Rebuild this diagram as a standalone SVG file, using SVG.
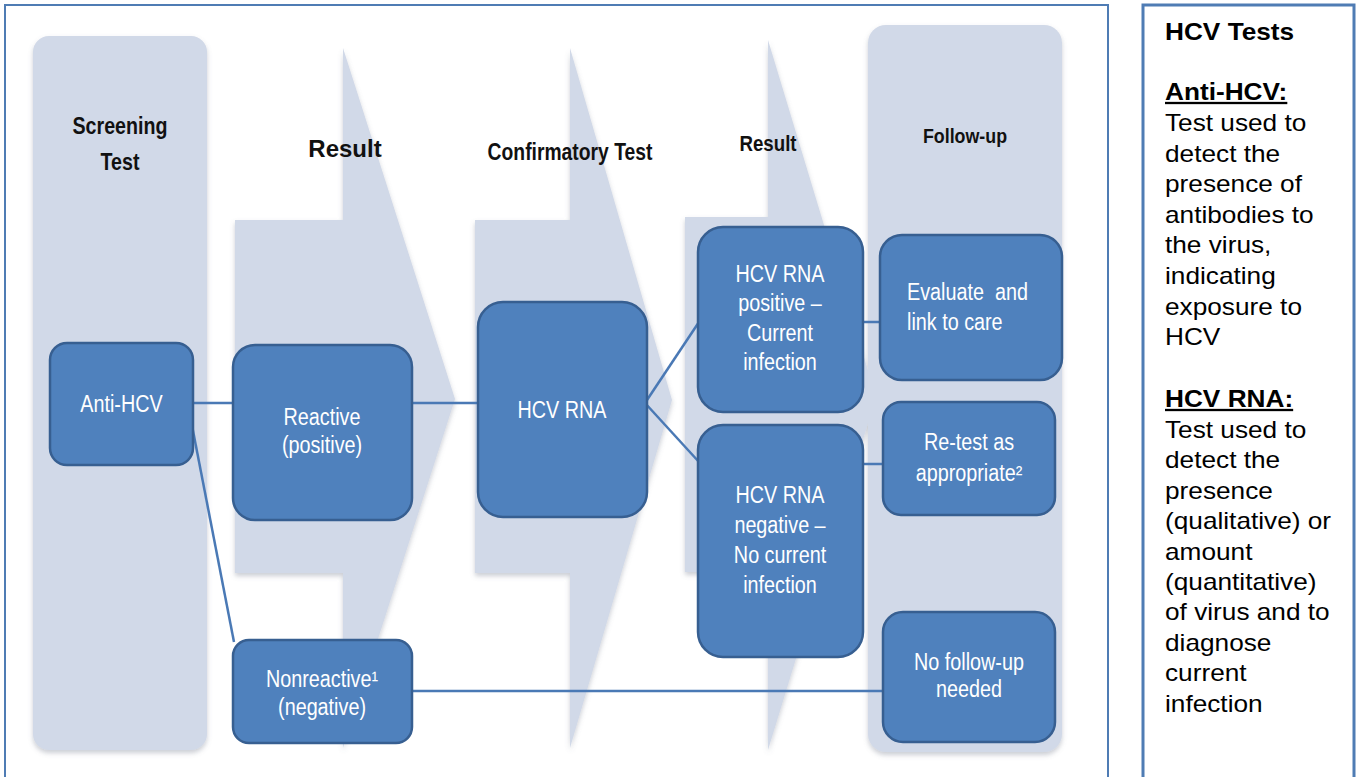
<svg xmlns="http://www.w3.org/2000/svg" width="1356" height="777" viewBox="0 0 1356 777">
<style>
  .frame{fill:none;stroke:#4f7cb4;}
  .bg{fill:#d1d9e8;}
  .node{fill:#4f81bd;stroke:#375f91;stroke-width:2.5;}
  .conn{stroke:#4a79b5;stroke-width:2.5;fill:none;}
  .nt{font-family:"Liberation Sans",Arial,sans-serif;font-size:23px;fill:#ffffff;text-anchor:middle;}
  .ntl{font-family:"Liberation Sans",Arial,sans-serif;font-size:23px;fill:#ffffff;text-anchor:start;}
  .hd{font-family:"Liberation Sans",Arial,sans-serif;font-weight:bold;fill:#111111;text-anchor:middle;}
  .pt{font-family:"Liberation Sans",Arial,sans-serif;font-size:23px;fill:#000000;}
  .pb{font-family:"Liberation Sans",Arial,sans-serif;font-size:23px;font-weight:bold;fill:#000000;}
</style>
<defs>
  <filter id="sh" x="-10%" y="-10%" width="120%" height="120%">
    <feDropShadow dx="0" dy="3" stdDeviation="2.5" flood-color="#6a7384" flood-opacity="0.35"/>
  </filter>
</defs>
<rect width="1356" height="777" fill="#ffffff"/>

<!-- frames -->
<g id="frames">
  <path class="frame" stroke-width="2" d="M5,777 V5 H1108 V777"/>
  <path class="frame" stroke-width="3" d="M1143,777 V5 H1354 V777"/>
</g>

<!-- background columns and process arrows -->
<g id="background" filter="url(#sh)">
  <rect id="col-screening" class="bg" x="33" y="36" width="174" height="714" rx="16"/>
  <path id="arrow-result1" class="bg" d="M235,220 H343 V48 L455,399 L343,748 V573 H235 Z"/>
  <path id="arrow-confirm" class="bg" d="M475,220 H570 V48 L672,400 L570,748 V573 H475 Z"/>
  <path id="arrow-result2" class="bg" d="M685,217 H768 V40 L876,397 L768,750 V572 H685 Z"/>
  <rect id="col-followup" class="bg" x="868" y="25" width="194" height="727" rx="18"/>
</g>

<!-- headers -->
<g id="headers">
  <text class="hd" font-size="23" transform="translate(120 134) scale(0.855 1)">Screening</text>
  <text class="hd" font-size="23" transform="translate(120 170) scale(0.855 1)">Test</text>
  <text class="hd" font-size="24" transform="translate(345 157)">Result</text>
  <text class="hd" font-size="23" transform="translate(570 160) scale(0.84 1)">Confirmatory Test</text>
  <text class="hd" font-size="22" transform="translate(768 151) scale(0.85 1)">Result</text>
  <text class="hd" font-size="21" transform="translate(965 143) scale(0.85 1)">Follow-up</text>
</g>

<!-- connectors -->
<g id="connectors">
  <line class="conn" x1="190" y1="403" x2="235" y2="403"/>
  <line class="conn" x1="188" y1="405" x2="234" y2="642"/>
  <line class="conn" x1="410" y1="403" x2="480" y2="403"/>
  <line class="conn" x1="645" y1="403" x2="699" y2="322"/>
  <line class="conn" x1="645" y1="403" x2="699" y2="462"/>
  <line class="conn" x1="861" y1="322" x2="882" y2="322"/>
  <line class="conn" x1="861" y1="464" x2="885" y2="464"/>
  <line class="conn" x1="410" y1="691" x2="885" y2="691"/>
</g>

<!-- nodes -->
<g id="node-antihcv">
  <rect class="node" x="50" y="343" width="143" height="122" rx="17"/>
  <text class="nt" transform="translate(121.5 412) scale(0.86 1)">Anti-HCV</text>
</g>
<g id="node-reactive">
  <rect class="node" x="233" y="345" width="179" height="175" rx="22"/>
  <text class="nt" transform="translate(322 425) scale(0.86 1)">Reactive</text>
  <text class="nt" transform="translate(322 453) scale(0.86 1)">(positive)</text>
</g>
<g id="node-nonreactive">
  <rect class="node" x="233" y="640" width="179" height="103" rx="16"/>
  <text class="nt" transform="translate(322 687) scale(0.86 1)">Nonreactive¹</text>
  <text class="nt" transform="translate(322 715) scale(0.86 1)">(negative)</text>
</g>
<g id="node-hcvrna">
  <rect class="node" x="478" y="302" width="169" height="215" rx="25"/>
  <text class="nt" transform="translate(562 418) scale(0.86 1)">HCV RNA</text>
</g>
<g id="node-positive">
  <rect class="node" x="698" y="227" width="165" height="185" rx="25"/>
  <text class="nt" transform="translate(780 282) scale(0.86 1)">HCV RNA</text>
  <text class="nt" transform="translate(780 311) scale(0.86 1)">positive –</text>
  <text class="nt" transform="translate(780 341) scale(0.86 1)">Current</text>
  <text class="nt" transform="translate(780 370) scale(0.86 1)">infection</text>
</g>
<g id="node-negative">
  <rect class="node" x="698" y="425" width="165" height="232" rx="25"/>
  <text class="nt" transform="translate(780 503) scale(0.86 1)">HCV RNA</text>
  <text class="nt" transform="translate(780 533) scale(0.86 1)">negative –</text>
  <text class="nt" transform="translate(780 563) scale(0.86 1)">No current</text>
  <text class="nt" transform="translate(780 593) scale(0.86 1)">infection</text>
</g>
<g id="node-evaluate">
  <rect class="node" x="880" y="235" width="182" height="145" rx="22"/>
  <text class="ntl" transform="translate(907 300) scale(0.86 1)" xml:space="preserve">Evaluate  and</text>
  <text class="ntl" transform="translate(907 330) scale(0.86 1)">link to care</text>
</g>
<g id="node-retest">
  <rect class="node" x="883" y="402" width="172" height="113" rx="18"/>
  <text class="nt" transform="translate(969 450) scale(0.86 1)">Re-test as</text>
  <text class="nt" transform="translate(969 481) scale(0.86 1)">appropriate²</text>
</g>
<g id="node-nofollowup">
  <rect class="node" x="883" y="612" width="172" height="130" rx="20"/>
  <text class="nt" transform="translate(969 670) scale(0.86 1)">No follow-up</text>
  <text class="nt" transform="translate(969 697) scale(0.86 1)">needed</text>
</g>

<!-- legend panel -->
<g id="legend" transform="translate(1165 0) scale(1.14 1)">
  <text class="pb" x="0" y="40">HCV Tests</text>
  <text class="pb" x="0" y="100" text-decoration="underline">Anti-HCV:</text>
  <text class="pt" x="0" y="131.5">Test used to</text>
  <text class="pt" x="0" y="162">detect the</text>
  <text class="pt" x="0" y="192.5">presence of</text>
  <text class="pt" x="0" y="223">antibodies to</text>
  <text class="pt" x="0" y="253.5">the virus,</text>
  <text class="pt" x="0" y="284">indicating</text>
  <text class="pt" x="0" y="314.5">exposure to</text>
  <text class="pt" x="0" y="345">HCV</text>
  <text class="pb" x="0" y="407" text-decoration="underline">HCV RNA:</text>
  <text class="pt" x="0" y="438">Test used to</text>
  <text class="pt" x="0" y="468.4">detect the</text>
  <text class="pt" x="0" y="498.8">presence</text>
  <text class="pt" x="0" y="529.2">(qualitative) or</text>
  <text class="pt" x="0" y="559.6">amount</text>
  <text class="pt" x="0" y="590">(quantitative)</text>
  <text class="pt" x="0" y="620.4">of virus and to</text>
  <text class="pt" x="0" y="650.8">diagnose</text>
  <text class="pt" x="0" y="681.2">current</text>
  <text class="pt" x="0" y="711.6">infection</text>
</g>
</svg>
